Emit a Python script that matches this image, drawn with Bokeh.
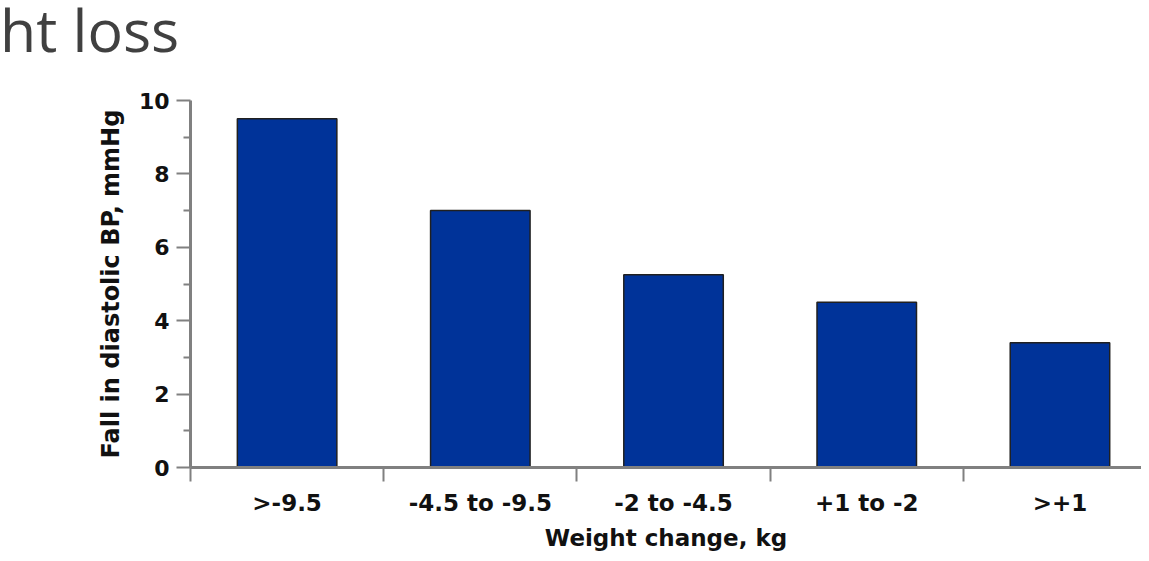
from bokeh.plotting import figure
from bokeh.models import Range1d, FixedTicker, Div
from bokeh.layouts import column
from bokeh.embed import file_html
from bokeh.resources import INLINE

# ---- data ----
categories = [">-9.5", "-4.5 to -9.5", "-2 to -4.5", "+1 to -2", ">+1"]
fall_dbp = [9.5, 7.0, 5.25, 4.5, 3.4]
y_ticks = [0, 2, 4, 6, 8, 10]
y_minor_ticks = [1, 3, 5, 7, 9]
title_text = "ht loss"
x_label = "Weight change, kg"
y_label = "Fall in diastolic BP, mmHg"

positions = list(range(len(categories)))
boundaries = [i - 0.5 for i in range(len(categories) + 1)]

AXIS_GREY = "#808080"
FONT = "DejaVu Sans"
TEXT = "#111111"
TITLE_H = 60

# cut-off slide title at the top left
title = Div(text=title_text, width=1141, height=TITLE_H, margin=(0, 0, 0, 0),
            styles={"font-family": "Open Sans", "font-size": "59px",
                    "color": "#404040", "line-height": "59px",
                    "white-space": "nowrap", "padding": "0", "margin": "0"})

p = figure(width=1141, height=553 - TITLE_H, output_backend="svg",
           toolbar_location=None,
           x_range=Range1d(-0.5, 4.422), y_range=Range1d(0, 10),
           min_border_left=190, min_border_right=0, min_border_top=100 - TITLE_H,
           min_border_bottom=84, background_fill_color="white",
           border_fill_color="white", margin=(0, 0, 0, 0))
p.outline_line_color = None
p.grid.visible = False

p.vbar(x=positions, top=fall_dbp, width=0.515, fill_color="#003399",
       line_color="#202020", line_width=1.5)

# x axis
xa = p.xaxis[0]
xa.ticker = FixedTicker(ticks=positions, minor_ticks=boundaries)
xa.major_label_overrides = {i: c for i, c in zip(positions, categories)}
xa.major_tick_line_color = None
xa.major_tick_out = 0
xa.major_tick_in = 0
xa.minor_tick_out = 14
xa.minor_tick_in = 0
xa.minor_tick_line_color = AXIS_GREY
xa.minor_tick_line_width = 2
xa.axis_line_color = AXIS_GREY
xa.axis_line_width = 3
xa.major_label_standoff = 8
xa.major_label_text_font = FONT
xa.major_label_text_font_style = "bold"
xa.major_label_text_font_size = "23px"
xa.major_label_text_color = TEXT
xa.axis_label = x_label
xa.axis_label_text_font = FONT
xa.axis_label_text_font_style = "bold"
xa.axis_label_text_font_size = "23px"
xa.axis_label_text_color = TEXT
xa.axis_label_standoff = 6

# y axis
ya = p.yaxis[0]
ya.ticker = FixedTicker(ticks=y_ticks, minor_ticks=y_minor_ticks)
ya.major_tick_out = 14
ya.major_tick_in = 0
ya.minor_tick_out = 7
ya.minor_tick_in = 0
ya.major_tick_line_color = AXIS_GREY
ya.minor_tick_line_color = AXIS_GREY
ya.major_tick_line_width = 2
ya.minor_tick_line_width = 2
ya.axis_line_color = AXIS_GREY
ya.axis_line_width = 3
ya.major_label_standoff = 7
ya.major_label_text_font = FONT
ya.major_label_text_font_style = "bold"
ya.major_label_text_font_size = "22px"
ya.major_label_text_color = TEXT
ya.axis_label = y_label
ya.axis_label_text_font = FONT
ya.axis_label_text_font_style = "bold"
ya.axis_label_text_font_size = "24px"
ya.axis_label_text_color = TEXT
ya.axis_label_standoff = 11

layout = column(title, p, spacing=0)
open("out.html", "w").write(file_html(layout, INLINE))
